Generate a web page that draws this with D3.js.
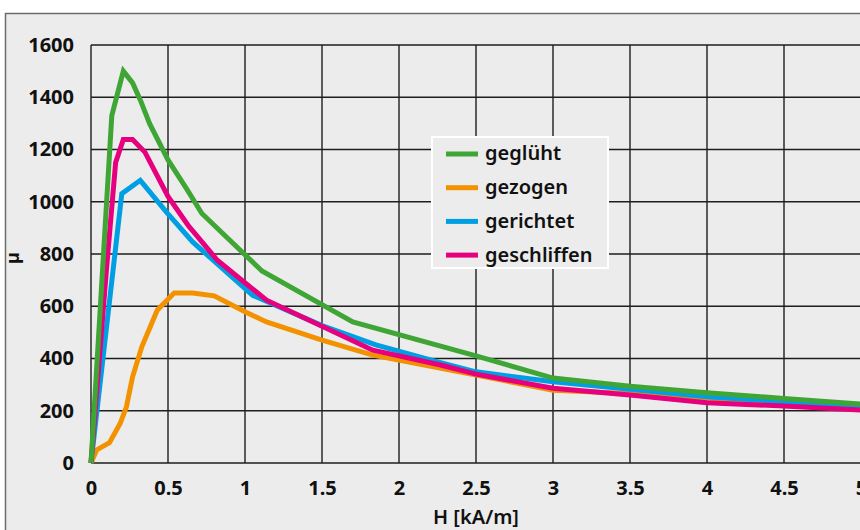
<!DOCTYPE html>
<html>
<head>
<meta charset="utf-8">
<script src="https://cdn.jsdelivr.net/npm/d3@7"></script>
<style>
  html, body { margin: 0; padding: 0; background: #fff; overflow: hidden; }
  svg { display: block; font-family: "Noto Sans", "DejaVu Sans", sans-serif; }
</style>
</head>
<body>
<svg id="chart" width="860" height="530"></svg>
<script>
// values (H in kA/m, µ)
const seriesNames = ['geglüht', 'gezogen', 'gerichtet', 'geschliffen']
const seriesColors = ['#3fa535', '#f39200', '#009fe3', '#e6007e']
const drawOrder = [1, 2, 3, 0] // orange under, green on top

const gegluehtH  = [0, 0.135, 0.21, 0.27, 0.32, 0.38, 0.5, 0.62, 0.72, 1.11, 1.7, 2.5, 3.0, 3.5, 4.0, 4.5, 5.0]
const gegluehtMu = [0, 1330, 1500, 1455, 1390, 1300, 1160, 1050, 955, 735, 540, 410, 325, 294, 269, 247, 226]

const gezogenH  = [0, 0.037, 0.12, 0.19, 0.23, 0.27, 0.33, 0.43, 0.54, 0.66, 0.8, 1.0, 1.14, 1.5, 1.83, 2.5, 3.0, 3.5, 4.0, 4.5, 5.0]
const gezogenMu = [0, 50, 78, 152, 215, 330, 445, 585, 651, 651, 640, 579, 540, 470, 413, 337, 278, 266, 244, 226, 215]

const gerichtetH  = [0, 0.2, 0.32, 0.49, 0.66, 1.05, 1.5, 1.85, 2.27, 2.5, 3.0, 3.5, 4.0, 4.5, 5.0]
const gerichtetMu = [0, 1031, 1082, 960, 846, 642, 526, 452, 384, 349, 311, 282, 254, 234, 219]

const geschliffenH  = [0, 0.1, 0.16, 0.21, 0.27, 0.35, 0.5, 0.63, 0.73, 0.82, 1.14, 1.83, 2.27, 2.5, 3.0, 3.5, 4.0, 4.5, 5.0]
const geschliffenMu = [0, 738, 1150, 1238, 1238, 1190, 1020, 910, 840, 776, 623, 432, 375, 340, 286, 260, 231, 218, 203]

const xTicks = [0, 0.5, 1, 1.5, 2, 2.5, 3, 3.5, 4, 4.5, 5]
const yTicks = [0, 200, 400, 600, 800, 1000, 1200, 1400, 1600]
const xTitle = 'H [kA/m]'
const yTitle = 'µ'

const svg = d3.select('#chart')
const x = d3.scaleLinear().domain([0, 5]).range([91, 861])
const y = d3.scaleLinear().domain([0, 1600]).range([463, 45])

// frame
svg.append('rect').attr('x', 5.5).attr('y', 13.5).attr('width', 900).attr('height', 600)
  .attr('fill', '#ececec').attr('stroke', '#6b6b6b').attr('stroke-width', 1.5)

// grid
const grid = svg.append('g').attr('stroke', '#1e1e1e').attr('stroke-width', 1.4)
grid.selectAll('line.h').data(yTicks).join('line').attr('class', 'h')
  .attr('x1', x(0)).attr('x2', x(5)).attr('y1', d => y(d)).attr('y2', d => y(d))
grid.selectAll('line.v').data(xTicks).join('line').attr('class', 'v')
  .attr('x1', d => x(d)).attr('x2', d => x(d)).attr('y1', y(0)).attr('y2', y(1600))

// axes (labels only, lines are the grid)
const xAxis = svg.append('g').attr('transform', `translate(0,${y(0)})`)
  .call(d3.axisBottom(x).tickValues(xTicks).tickSize(0).tickPadding(18).tickFormat(d3.format('')))
const yAxis = svg.append('g').attr('transform', `translate(${x(0)},0)`)
  .call(d3.axisLeft(y).tickValues(yTicks).tickSize(0).tickPadding(17).tickFormat(d3.format('')))
for(const a of [xAxis, yAxis]){
  a.select('.domain').remove()
  a.selectAll('text').attr('fill', '#111').attr('font-size', 20).attr('font-weight', 'bold')
    .attr('font-family', '"Noto Sans", sans-serif')
}

svg.append('text').attr('x', x(2.5)).attr('y', 524).attr('text-anchor', 'middle')
  .attr('font-size', 20).attr('font-weight', 600).attr('fill', '#111').text(xTitle)
svg.append('text').attr('transform', 'translate(19,258) rotate(-90)').attr('text-anchor', 'middle')
  .attr('font-size', 18).attr('font-weight', 'bold').attr('fill', '#111').text(yTitle)

// curves
const data = [
  gegluehtH.map((h, i) => [h, gegluehtMu[i]]),
  gezogenH.map((h, i) => [h, gezogenMu[i]]),
  gerichtetH.map((h, i) => [h, gerichtetMu[i]]),
  geschliffenH.map((h, i) => [h, geschliffenMu[i]])
]
const line = d3.line().x(d => x(d[0])).y(d => y(d[1]))
svg.append('g').selectAll('path').data(drawOrder).join('path')
  .attr('d', i => line(data[i]))
  .attr('fill', 'none').attr('stroke', i => seriesColors[i])
  .attr('stroke-width', 5).attr('stroke-linejoin', 'miter')

// legend
const lg = svg.append('g')
lg.append('rect').attr('x', 432).attr('y', 137).attr('width', 176).attr('height', 131)
  .attr('fill', '#ececec').attr('stroke', '#fff').attr('stroke-width', 2)
const rows = lg.selectAll('g.row').data(seriesNames).join('g').attr('class', 'row')
  .attr('transform', (d, i) => `translate(0,${154 + i * 33.7})`)
rows.append('line').attr('x1', 446).attr('x2', 478).attr('stroke', (d, i) => seriesColors[i]).attr('stroke-width', 5)
rows.append('text').attr('x', 485).attr('dy', '0.32em').attr('font-size', 20).attr('font-weight', 600)
  .attr('fill', '#111').text(d => d)
</script>
</body>
</html>
